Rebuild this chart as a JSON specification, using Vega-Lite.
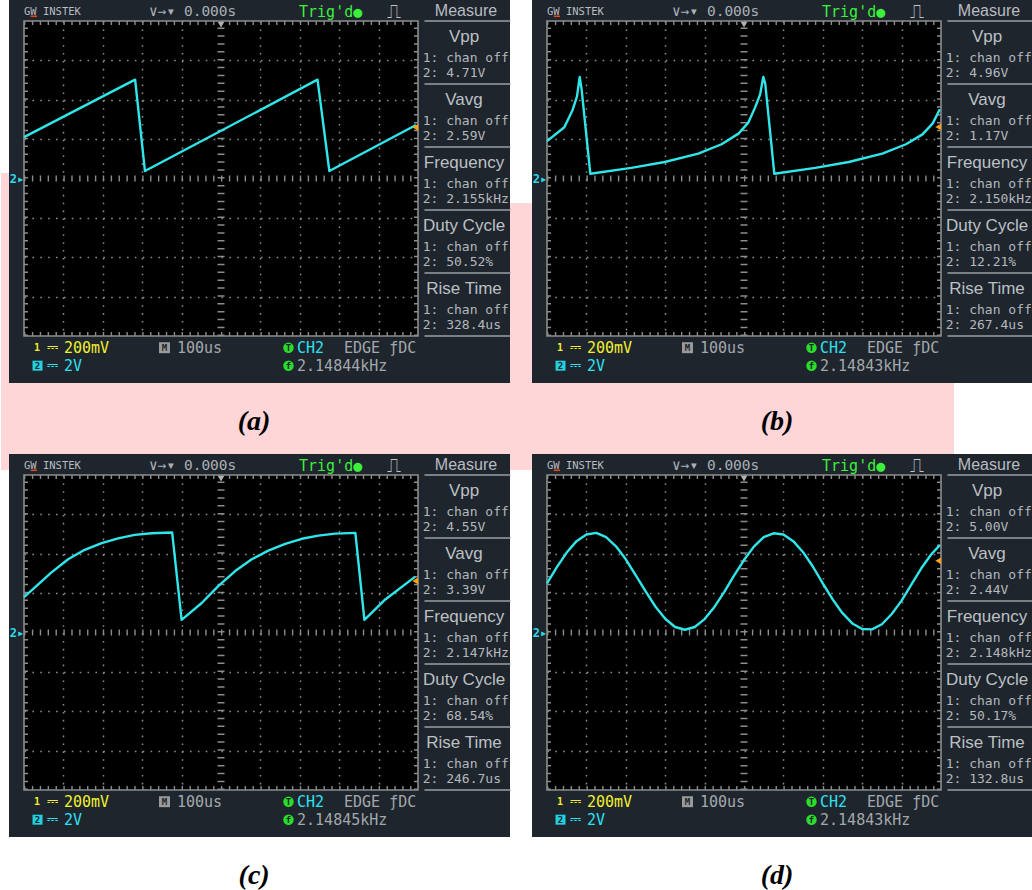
{
  "$schema": "https://vega.github.io/schema/vega-lite/v6.json",
  "background": "white",
  "padding": {"top": -24, "left": 0, "right": 0, "bottom": 0},
  "autosize": {"type": "pad"},
  "data": {"values": [
    {"p":"a","kind":"info","cap":"(a)","m":"2: 4.71V\n2: 2.59V\n2: 2.155kHz\n2: 50.52%\n2: 328.4us","fb":"2.14844kHz","trig":5.30},
    {"p":"b","kind":"info","cap":"(b)","m":"2: 4.96V\n2: 1.17V\n2: 2.150kHz\n2: 12.21%\n2: 267.4us","fb":"2.14843kHz","trig":5.31},
    {"p":"c","kind":"info","cap":"(c)","m":"2: 4.55V\n2: 3.39V\n2: 2.147kHz\n2: 68.54%\n2: 246.7us","fb":"2.14845kHz","trig":5.31},
    {"p":"d","kind":"info","cap":"(d)","m":"2: 5.00V\n2: 2.44V\n2: 2.148kHz\n2: 50.17%\n2: 132.8us","fb":"2.14843kHz","trig":5.82},
    {"p":"a","kind":"wave","x":0,"y":5.05},{"p":"a","kind":"wave","x":2.82,"y":6.51},{"p":"a","kind":"wave","x":3.07,"y":4.19},{"p":"a","kind":"wave","x":7.45,"y":6.51},{"p":"a","kind":"wave","x":7.75,"y":4.19},{"p":"a","kind":"wave","x":9.95,"y":5.36},
    {"p":"b","kind":"wave","x":0,"y":4.95},{"p":"b","kind":"wave","x":0.44,"y":5.3},{"p":"b","kind":"wave","x":0.65,"y":5.74},{"p":"b","kind":"wave","x":0.76,"y":6.08},{"p":"b","kind":"wave","x":0.83,"y":6.58},{"p":"b","kind":"wave","x":0.88,"y":6.25},{"p":"b","kind":"wave","x":1.1,"y":4.12},{"p":"b","kind":"wave","x":2.14,"y":4.27},{"p":"b","kind":"wave","x":2.99,"y":4.42},{"p":"b","kind":"wave","x":3.84,"y":4.63},{"p":"b","kind":"wave","x":4.43,"y":4.87},{"p":"b","kind":"wave","x":4.86,"y":5.14},{"p":"b","kind":"wave","x":5.11,"y":5.42},{"p":"b","kind":"wave","x":5.28,"y":5.8},{"p":"b","kind":"wave","x":5.41,"y":6.14},{"p":"b","kind":"wave","x":5.49,"y":6.58},{"p":"b","kind":"wave","x":5.54,"y":6.4},{"p":"b","kind":"wave","x":5.77,"y":4.12},{"p":"b","kind":"wave","x":6.81,"y":4.27},{"p":"b","kind":"wave","x":7.66,"y":4.42},{"p":"b","kind":"wave","x":8.51,"y":4.63},{"p":"b","kind":"wave","x":9.11,"y":4.87},{"p":"b","kind":"wave","x":9.53,"y":5.12},{"p":"b","kind":"wave","x":9.79,"y":5.4},{"p":"b","kind":"wave","x":9.97,"y":5.76},
    {"p":"c","kind":"wave","x":0,"y":4.9},{"p":"c","kind":"wave","x":0.27,"y":5.14},{"p":"c","kind":"wave","x":0.69,"y":5.52},{"p":"c","kind":"wave","x":1.12,"y":5.86},{"p":"c","kind":"wave","x":1.54,"y":6.1},{"p":"c","kind":"wave","x":1.97,"y":6.27},{"p":"c","kind":"wave","x":2.39,"y":6.39},{"p":"c","kind":"wave","x":2.81,"y":6.48},{"p":"c","kind":"wave","x":3.24,"y":6.52},{"p":"c","kind":"wave","x":3.76,"y":6.54},{"p":"c","kind":"wave","x":4.0,"y":4.32},{"p":"c","kind":"wave","x":4.51,"y":4.75},{"p":"c","kind":"wave","x":4.93,"y":5.18},{"p":"c","kind":"wave","x":5.36,"y":5.56},{"p":"c","kind":"wave","x":5.78,"y":5.86},{"p":"c","kind":"wave","x":6.2,"y":6.08},{"p":"c","kind":"wave","x":6.63,"y":6.25},{"p":"c","kind":"wave","x":7.05,"y":6.38},{"p":"c","kind":"wave","x":7.47,"y":6.46},{"p":"c","kind":"wave","x":7.9,"y":6.51},{"p":"c","kind":"wave","x":8.41,"y":6.53},{"p":"c","kind":"wave","x":8.64,"y":4.32},{"p":"c","kind":"wave","x":9.17,"y":4.84},{"p":"c","kind":"wave","x":9.93,"y":5.42},
    {"p":"d","kind":"wave","x":0,"y":5.25},{"p":"d","kind":"wave","x":0.25,"y":5.66},{"p":"d","kind":"wave","x":0.5,"y":6.03},{"p":"d","kind":"wave","x":0.75,"y":6.32},{"p":"d","kind":"wave","x":1.0,"y":6.49},{"p":"d","kind":"wave","x":1.25,"y":6.53},{"p":"d","kind":"wave","x":1.5,"y":6.42},{"p":"d","kind":"wave","x":1.75,"y":6.19},{"p":"d","kind":"wave","x":2.0,"y":5.86},{"p":"d","kind":"wave","x":2.25,"y":5.46},{"p":"d","kind":"wave","x":2.5,"y":5.05},{"p":"d","kind":"wave","x":2.75,"y":4.66},{"p":"d","kind":"wave","x":3.0,"y":4.35},{"p":"d","kind":"wave","x":3.25,"y":4.14},{"p":"d","kind":"wave","x":3.5,"y":4.07},{"p":"d","kind":"wave","x":3.75,"y":4.14},{"p":"d","kind":"wave","x":4.0,"y":4.34},{"p":"d","kind":"wave","x":4.25,"y":4.65},{"p":"d","kind":"wave","x":4.5,"y":5.03},{"p":"d","kind":"wave","x":4.75,"y":5.45},{"p":"d","kind":"wave","x":5.0,"y":5.84},{"p":"d","kind":"wave","x":5.25,"y":6.18},{"p":"d","kind":"wave","x":5.5,"y":6.42},{"p":"d","kind":"wave","x":5.75,"y":6.52},{"p":"d","kind":"wave","x":6.0,"y":6.49},{"p":"d","kind":"wave","x":6.25,"y":6.32},{"p":"d","kind":"wave","x":6.5,"y":6.04},{"p":"d","kind":"wave","x":6.75,"y":5.67},{"p":"d","kind":"wave","x":7.0,"y":5.25},{"p":"d","kind":"wave","x":7.25,"y":4.84},{"p":"d","kind":"wave","x":7.5,"y":4.49},{"p":"d","kind":"wave","x":7.75,"y":4.23},{"p":"d","kind":"wave","x":8.0,"y":4.09},{"p":"d","kind":"wave","x":8.25,"y":4.08},{"p":"d","kind":"wave","x":8.5,"y":4.21},{"p":"d","kind":"wave","x":8.75,"y":4.47},{"p":"d","kind":"wave","x":9.0,"y":4.81},{"p":"d","kind":"wave","x":9.25,"y":5.22},{"p":"d","kind":"wave","x":9.5,"y":5.63},{"p":"d","kind":"wave","x":9.75,"y":5.98},{"p":"d","kind":"wave","x":9.97,"y":6.22}
  ]},
  "facet": {"field": "p", "type": "nominal", "title": null, "header": {"labelExpr": "''", "labelFontSize": 1, "labelPadding": 0, "labelColor": "white", "title": null, "titlePadding": 0}},
  "columns": 2,
  "spacing": {"row": 139, "column": 129},
  "bounds": "flush",
  "spec": {
    "width": 394,
    "height": 315,
    "layer": [
      {"transform": [{"filter": "datum.kind == 'info' && datum.p == 'a'"}],
       "mark": {"type": "rect", "color": "#ffd6d8"},
       "encoding": {"x": {"datum": -0.5838, "type": "quantitative", "scale": {"domain": [0, 10], "nice": false, "zero": false}}, "x2": {"datum": -0.3807}, "y": {"datum": 4.1397, "type": "quantitative", "scale": {"domain": [0, 8], "nice": false, "zero": false}}, "y2": {"datum": -3.4032}}},
      {"transform": [{"filter": "datum.kind == 'info' && datum.p == 'a'"}],
       "mark": {"type": "rect", "color": "#ffd6d8"},
       "encoding": {"x": {"datum": 12.335, "type": "quantitative"}, "x2": {"datum": 12.893}, "y": {"datum": 3.3778, "type": "quantitative"}, "y2": {"datum": -3.4032}}},
      {"transform": [{"filter": "datum.kind == 'info' && datum.p == 'a'"}],
       "mark": {"type": "rect", "color": "#ffd6d8"},
       "encoding": {"x": {"datum": -0.5838, "type": "quantitative"}, "x2": {"datum": 23.604}, "y": {"datum": -1.1937, "type": "quantitative"}, "y2": {"datum": -3.4032}}},

      {"transform": [{"filter": "datum.kind == 'info'"}],
       "mark": {"type": "rect", "color": "#1e252d"},
       "encoding": {"x": {"datum": -0.3807, "type": "quantitative"}, "x2": {"datum": 12.335}, "y": {"datum": 8.5333, "type": "quantitative"}, "y2": {"datum": 7.995}}},
      {"transform": [{"filter": "datum.kind == 'info'"}],
       "mark": {"type": "rect", "color": "#1e252d"},
       "encoding": {"x": {"datum": -0.3807, "type": "quantitative"}, "x2": {"datum": 12.335}, "y": {"datum": 0.005, "type": "quantitative"}, "y2": {"datum": -1.1937}}},
      {"transform": [{"filter": "datum.kind == 'info'"}],
       "mark": {"type": "rect", "color": "#1e252d"},
       "encoding": {"x": {"datum": -0.3807, "type": "quantitative"}, "x2": {"datum": 0.005}, "y": {"datum": 8, "type": "quantitative"}, "y2": {"datum": 0}}},
      {"transform": [{"filter": "datum.kind == 'info'"}],
       "mark": {"type": "rect", "color": "#1e252d"},
       "encoding": {"x": {"datum": 9.995, "type": "quantitative"}, "x2": {"datum": 12.335}, "y": {"datum": 8, "type": "quantitative"}, "y2": {"datum": 0}}},

      {"transform": [{"filter": "datum.kind == 'info'"}],
       "mark": {"type": "rule", "color": "#8c8c8c", "strokeWidth": 4, "strokeDash": [1.4, 6.475], "xOffset": 2},
       "encoding": {"x": {"datum": 0, "type": "quantitative"}, "y": {"datum": 0, "type": "quantitative"}, "y2": {"datum": 8}}},
      {"transform": [{"filter": "datum.kind == 'info'"}],
       "mark": {"type": "rule", "color": "#8c8c8c", "strokeWidth": 4, "strokeDash": [1.4, 6.475], "xOffset": -2},
       "encoding": {"x": {"datum": 10, "type": "quantitative"}, "y": {"datum": 0, "type": "quantitative"}, "y2": {"datum": 8}}},
      {"transform": [{"filter": "datum.kind == 'info'"}],
       "mark": {"type": "rule", "color": "#8c8c8c", "strokeWidth": 4, "strokeDash": [1.4, 6.48], "yOffset": 2},
       "encoding": {"y": {"datum": 8, "type": "quantitative"}, "x": {"datum": 0, "type": "quantitative"}, "x2": {"datum": 10}}},
      {"transform": [{"filter": "datum.kind == 'info'"}],
       "mark": {"type": "rule", "color": "#8c8c8c", "strokeWidth": 4, "strokeDash": [1.4, 6.48], "yOffset": -2},
       "encoding": {"y": {"datum": 0, "type": "quantitative"}, "x": {"datum": 0, "type": "quantitative"}, "x2": {"datum": 10}}},
      {"transform": [{"filter": "datum.kind == 'info'"}],
       "mark": {"type": "rule", "color": "#8c8c8c", "strokeWidth": 7, "strokeDash": [1.4, 6.475]},
       "encoding": {"x": {"datum": 5, "type": "quantitative"}, "y": {"datum": 0, "type": "quantitative"}, "y2": {"datum": 8}}},
      {"transform": [{"filter": "datum.kind == 'info'"}],
       "mark": {"type": "rule", "color": "#8c8c8c", "strokeWidth": 6, "strokeDash": [1.4, 6.48]},
       "encoding": {"y": {"datum": 4, "type": "quantitative"}, "x": {"datum": 0, "type": "quantitative"}, "x2": {"datum": 10}}},
      {"transform": [{"filter": "datum.kind == 'info'"}],
       "mark": {"type": "rect", "filled": false, "stroke": "#8c8c8c", "strokeWidth": 1.6},
       "encoding": {"x": {"datum": 0, "type": "quantitative"}, "x2": {"datum": 10}, "y": {"datum": 0, "type": "quantitative"}, "y2": {"datum": 8}}},
      {"transform": [{"filter": "datum.kind == 'info'"}],
       "mark": {"type": "point", "shape": "triangle-down", "filled": true, "size": 45, "color": "#b0b0b0", "opacity": 1},
       "encoding": {"x": {"datum": 5, "type": "quantitative"}, "y": {"datum": 7.91, "type": "quantitative"}}},

      {"transform": [{"filter": "datum.kind == 'wave'"}],
       "mark": {"type": "line", "color": "#2fe6ea", "strokeWidth": 2.4, "strokeJoin": "round"},
       "encoding": {"x": {"field": "x", "type": "quantitative", "scale": {"domain": [0, 10], "nice": false, "zero": false}, "axis": {"values": [1, 2, 3, 4, 6, 7, 8, 9], "grid": true, "gridColor": "#8c8c8c", "gridDash": [1.6, 6.28], "gridWidth": 1.5, "domain": false, "ticks": false, "labels": false, "title": null}},
                    "y": {"field": "y", "type": "quantitative", "scale": {"domain": [0, 8], "nice": false, "zero": false}, "axis": {"values": [1, 2, 3, 5, 6, 7], "grid": true, "gridColor": "#8c8c8c", "gridDash": [1.6, 6.28], "gridWidth": 1.5, "domain": false, "ticks": false, "labels": false, "title": null}}}},

      {"transform": [{"filter": "datum.kind == 'info'"}],
       "mark": {"type": "point", "shape": "triangle-left", "filled": true, "size": 45, "color": "#ffa010", "opacity": 1},
       "encoding": {"x": {"datum": 9.93, "type": "quantitative"}, "y": {"field": "trig", "type": "quantitative"}}},
      {"transform": [{"filter": "datum.kind == 'info'"}],
       "mark": {"type": "text", "text": "2▸", "align": "left", "baseline": "middle", "font": "DejaVu Sans Mono", "fontWeight": "bold", "fontSize": 12, "color": "#30d8e8"},
       "encoding": {"x": {"datum": -0.36, "type": "quantitative"}, "y": {"datum": 4, "type": "quantitative"}}},

      {"transform": [{"filter": "datum.kind == 'info'"}],
       "mark": {"type": "text", "text": "GW INSTEK", "align": "left", "baseline": "middle", "font": "DejaVu Sans Mono", "fontSize": 10.5, "color": "#b9bdc1"},
       "encoding": {"x": {"datum": 0, "type": "quantitative"}, "y": {"datum": 8.236, "type": "quantitative"}}},
      {"transform": [{"filter": "datum.kind == 'info'"}],
       "mark": {"type": "rule", "color": "#e4481a", "strokeWidth": 1.6},
       "encoding": {"x": {"datum": 0.17, "type": "quantitative"}, "x2": {"datum": 0.33}, "y": {"datum": 8.12, "type": "quantitative"}}},
      {"transform": [{"filter": "datum.kind == 'info'"}],
       "mark": {"type": "text", "text": "∨→▾ 0.000s", "align": "left", "baseline": "middle", "font": "DejaVu Sans Mono", "fontSize": 14.5, "color": "#aab0b6"},
       "encoding": {"x": {"datum": 3.173, "type": "quantitative"}, "y": {"datum": 8.236, "type": "quantitative"}}},
      {"transform": [{"filter": "datum.kind == 'info'"}],
       "mark": {"type": "text", "text": "Trig'd●", "align": "left", "baseline": "middle", "font": "DejaVu Sans Mono", "fontSize": 15, "color": "#3cf03c"},
       "encoding": {"x": {"datum": 6.98, "type": "quantitative"}, "y": {"datum": 8.236, "type": "quantitative"}}},
      {"transform": [{"filter": "datum.kind == 'info'"}],
       "mark": {"type": "text", "text": "⎍", "align": "center", "baseline": "middle", "font": "DejaVu Sans", "fontSize": 20, "color": "#c4c4c4"},
       "encoding": {"x": {"datum": 9.39, "type": "quantitative"}, "y": {"datum": 8.24, "type": "quantitative"}}},
      {"transform": [{"filter": "datum.kind == 'info'"}],
       "mark": {"type": "text", "text": "Measure", "align": "center", "baseline": "middle", "font": "Liberation Sans", "fontSize": 16, "color": "#b8bcc2"},
       "encoding": {"x": {"datum": 11.218, "type": "quantitative"}, "y": {"datum": 8.254, "type": "quantitative"}}},
      {"transform": [{"filter": "datum.kind == 'info'"}],
       "mark": {"type": "rule", "color": "#9a9ea2", "strokeWidth": 86, "strokeDash": [1.5, 61.5], "strokeCap": "butt"},
       "encoding": {"x": {"datum": 11.256, "type": "quantitative"}, "y": {"datum": 8.019, "type": "quantitative"}, "y2": {"datum": -0.0254}}},
      {"transform": [{"filter": "datum.kind == 'info'"}],
       "mark": {"type": "text", "text": "Vpp\nVavg\nFrequency\nDuty Cycle\nRise Time", "lineBreak": "\n", "lineHeight": 63, "align": "center", "baseline": "middle", "font": "Liberation Sans", "fontSize": 17, "color": "#bcc0c4"},
       "encoding": {"x": {"datum": 11.168, "type": "quantitative"}, "y": {"datum": 7.594, "type": "quantitative"}}},
      {"transform": [{"filter": "datum.kind == 'info'"}],
       "mark": {"type": "text", "text": "1: chan off\n1: chan off\n1: chan off\n1: chan off\n1: chan off", "lineBreak": "\n", "lineHeight": 63, "align": "left", "baseline": "middle", "font": "DejaVu Sans Mono", "fontSize": 13, "color": "#b4b8bc"},
       "encoding": {"x": {"datum": 10.119, "type": "quantitative"}, "y": {"datum": 7.06, "type": "quantitative"}}},
      {"transform": [{"filter": "datum.kind == 'info'"}],
       "mark": {"type": "text", "lineBreak": "\n", "lineHeight": 63, "align": "left", "baseline": "middle", "font": "DejaVu Sans Mono", "fontSize": 13, "color": "#b4b8bc"},
       "encoding": {"text": {"field": "m", "type": "nominal"}, "x": {"datum": 10.119, "type": "quantitative"}, "y": {"datum": 6.679, "type": "quantitative"}}},

      {"transform": [{"filter": "datum.kind == 'info'"}],
       "mark": {"type": "text", "text": "1", "align": "left", "baseline": "middle", "font": "DejaVu Sans Mono", "fontWeight": "bold", "fontSize": 10, "color": "#f0f030"},
       "encoding": {"x": {"datum": 0.254, "type": "quantitative"}, "y": {"datum": -0.297, "type": "quantitative"}}},
      {"transform": [{"filter": "datum.kind == 'info'"}],
       "mark": {"type": "text", "text": "⎓", "align": "center", "baseline": "middle", "font": "DejaVu Sans", "fontSize": 14, "color": "#f0f030"},
       "encoding": {"x": {"datum": 0.736, "type": "quantitative"}, "y": {"datum": -0.297, "type": "quantitative"}}},
      {"transform": [{"filter": "datum.kind == 'info'"}],
       "mark": {"type": "text", "text": "200mV", "align": "left", "baseline": "middle", "font": "DejaVu Sans Mono", "fontSize": 15, "color": "#f0f030"},
       "encoding": {"x": {"datum": 1.015, "type": "quantitative"}, "y": {"datum": -0.297, "type": "quantitative"}}},
      {"transform": [{"filter": "datum.kind == 'info'"}],
       "mark": {"type": "point", "shape": "square", "filled": true, "size": 100, "color": "#22d0e0", "opacity": 1},
       "encoding": {"x": {"datum": 0.343, "type": "quantitative"}, "y": {"datum": -0.754, "type": "quantitative"}}},
      {"transform": [{"filter": "datum.kind == 'info'"}],
       "mark": {"type": "text", "text": "2", "align": "center", "baseline": "middle", "font": "DejaVu Sans Mono", "fontWeight": "bold", "fontSize": 9, "color": "#1e252d"},
       "encoding": {"x": {"datum": 0.343, "type": "quantitative"}, "y": {"datum": -0.754, "type": "quantitative"}}},
      {"transform": [{"filter": "datum.kind == 'info'"}],
       "mark": {"type": "text", "text": "⎓", "align": "center", "baseline": "middle", "font": "DejaVu Sans", "fontSize": 14, "color": "#30e0f0"},
       "encoding": {"x": {"datum": 0.736, "type": "quantitative"}, "y": {"datum": -0.754, "type": "quantitative"}}},
      {"transform": [{"filter": "datum.kind == 'info'"}],
       "mark": {"type": "text", "text": "2V", "align": "left", "baseline": "middle", "font": "DejaVu Sans Mono", "fontSize": 15, "color": "#30e0f0"},
       "encoding": {"x": {"datum": 1.015, "type": "quantitative"}, "y": {"datum": -0.754, "type": "quantitative"}}},
      {"transform": [{"filter": "datum.kind == 'info'"}],
       "mark": {"type": "point", "shape": "square", "filled": true, "size": 120, "color": "#9a9a9a", "opacity": 1},
       "encoding": {"x": {"datum": 3.566, "type": "quantitative"}, "y": {"datum": -0.297, "type": "quantitative"}}},
      {"transform": [{"filter": "datum.kind == 'info'"}],
       "mark": {"type": "text", "text": "M", "align": "center", "baseline": "middle", "font": "DejaVu Sans Mono", "fontWeight": "bold", "fontSize": 9, "color": "#1e252d"},
       "encoding": {"x": {"datum": 3.566, "type": "quantitative"}, "y": {"datum": -0.297, "type": "quantitative"}}},
      {"transform": [{"filter": "datum.kind == 'info'"}],
       "mark": {"type": "text", "text": "100us", "align": "left", "baseline": "middle", "font": "DejaVu Sans Mono", "fontSize": 15, "color": "#a4a8ac"},
       "encoding": {"x": {"datum": 3.883, "type": "quantitative"}, "y": {"datum": -0.297, "type": "quantitative"}}},
      {"transform": [{"filter": "datum.kind == 'info'"}],
       "mark": {"type": "point", "shape": "circle", "filled": true, "size": 110, "color": "#2add2a", "opacity": 1},
       "encoding": {"x": {"datum": 6.713, "type": "quantitative"}, "y": {"datum": -0.297, "type": "quantitative"}}},
      {"transform": [{"filter": "datum.kind == 'info'"}],
       "mark": {"type": "text", "text": "T", "align": "center", "baseline": "middle", "font": "DejaVu Sans Mono", "fontWeight": "bold", "fontSize": 9, "color": "#1e252d"},
       "encoding": {"x": {"datum": 6.713, "type": "quantitative"}, "y": {"datum": -0.297, "type": "quantitative"}}},
      {"transform": [{"filter": "datum.kind == 'info'"}],
       "mark": {"type": "text", "text": "CH2", "align": "left", "baseline": "middle", "font": "DejaVu Sans Mono", "fontSize": 15, "color": "#30e0f0"},
       "encoding": {"x": {"datum": 6.929, "type": "quantitative"}, "y": {"datum": -0.297, "type": "quantitative"}}},
      {"transform": [{"filter": "datum.kind == 'info'"}],
       "mark": {"type": "text", "text": "EDGE  ƒDC", "align": "left", "baseline": "middle", "font": "DejaVu Sans Mono", "fontSize": 15, "color": "#a4a8ac"},
       "encoding": {"x": {"datum": 8.122, "type": "quantitative"}, "y": {"datum": -0.297, "type": "quantitative"}}},
      {"transform": [{"filter": "datum.kind == 'info'"}],
       "mark": {"type": "point", "shape": "circle", "filled": true, "size": 110, "color": "#2add2a", "opacity": 1},
       "encoding": {"x": {"datum": 6.713, "type": "quantitative"}, "y": {"datum": -0.754, "type": "quantitative"}}},
      {"transform": [{"filter": "datum.kind == 'info'"}],
       "mark": {"type": "text", "text": "f", "align": "center", "baseline": "middle", "font": "DejaVu Sans Mono", "fontWeight": "bold", "fontSize": 9, "color": "#1e252d"},
       "encoding": {"x": {"datum": 6.713, "type": "quantitative"}, "y": {"datum": -0.754, "type": "quantitative"}}},
      {"transform": [{"filter": "datum.kind == 'info'"}],
       "mark": {"type": "text", "align": "left", "baseline": "middle", "font": "DejaVu Sans Mono", "fontSize": 15, "color": "#a4a8ac"},
       "encoding": {"text": {"field": "fb", "type": "nominal"}, "x": {"datum": 6.929, "type": "quantitative"}, "y": {"datum": -0.754, "type": "quantitative"}}},
      {"transform": [{"filter": "datum.kind == 'info'"}],
       "mark": {"type": "text", "align": "center", "baseline": "middle", "font": "Liberation Serif", "fontWeight": "bold", "fontStyle": "italic", "fontSize": 28, "color": "#000000"},
       "encoding": {"text": {"field": "cap", "type": "nominal"}, "x": {"datum": 5.84, "type": "quantitative"}, "y": {"datum": -2.19, "type": "quantitative"}}}
    ]
  },
  "config": {
    "view": {"fill": "#000000", "stroke": null},
    "axis": {"domain": false, "ticks": false, "labels": false}
  }
}
